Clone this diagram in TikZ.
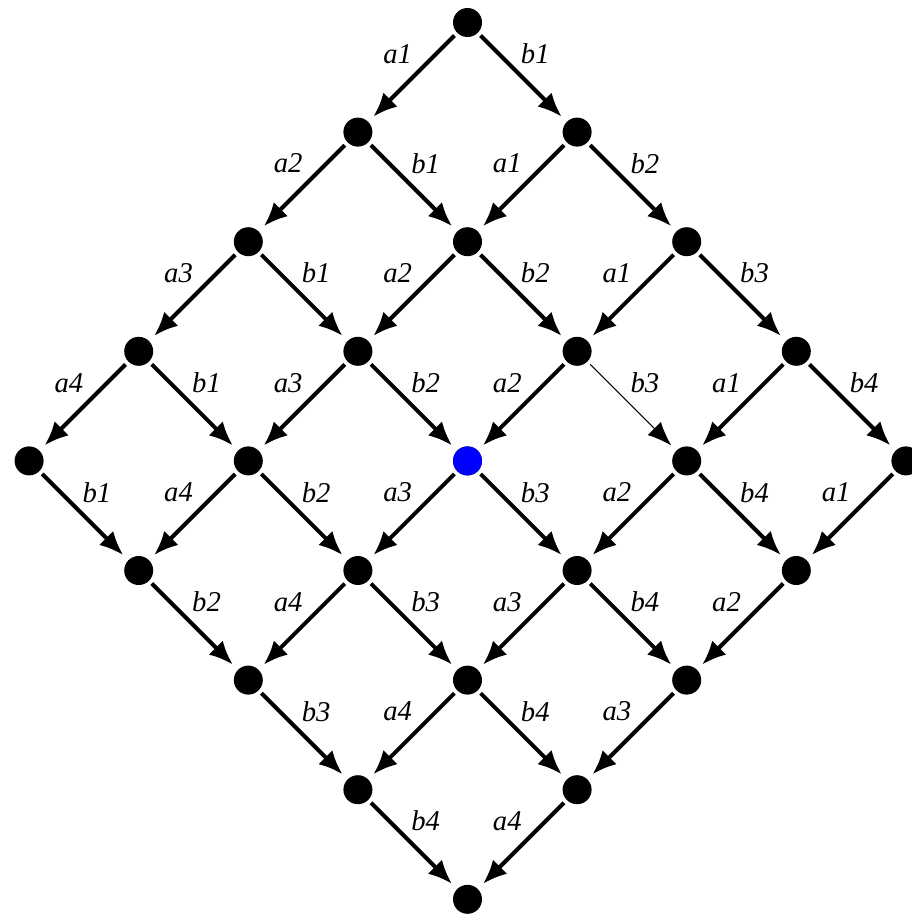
\documentclass[tikz,border=0pt]{standalone}
\usepackage{fontspec}
\setmainfont{Liberation Serif}
\usetikzlibrary{arrows.meta}
\begin{document}
\begin{tikzpicture}[x=0.75pt,y=-0.75pt,
  dot/.style={circle,fill=black,minimum size=21.75pt,inner sep=0pt,outer sep=0pt},
  edge/.style={line width=3pt,-{Latex[length=18pt,width=15pt]},shorten >=5.5pt,shorten <=3pt},
  thinedge/.style={line width=0.8pt,-{Latex[length=18pt,width=14pt]},shorten >=5.5pt,shorten <=3pt},
  lbl/.style={font=\fontsize{21.5}{24}\selectfont\itshape,inner sep=0pt},
  alab/.style={lbl,xshift=-11.25pt,yshift=17.5pt},
  blab/.style={lbl,xshift=9.75pt,yshift=17.5pt}]
\useasboundingbox (0,0) rectangle (912,914);
\foreach \i in {0,...,4}{\foreach \j in {0,...,4}{
  \node[dot] (n\i\j) at ({467.5+(\j-\i)*109.6},{22.5+(\i+\j)*109.6}) {};
}}
\node[dot,fill=blue] at (n22) {};
% a-edges
\foreach \i in {0,...,3}{\foreach \j in {0,...,4}{
  \pgfmathtruncatemacro\ii{\i+1}
  \draw[edge] (n\i\j) -- node[alab] {a\ii} (n\ii\j);
}}
% b-edges
\foreach \i in {0,...,4}{\foreach \j in {0,...,3}{
  \pgfmathtruncatemacro\jj{\j+1}
  \ifnum\i=1 \ifnum\j=2
    \draw[thinedge] (n\i\j) -- node[blab] {b\jj} (n\i\jj);
  \else
    \draw[edge] (n\i\j) -- node[blab] {b\jj} (n\i\jj);
  \fi\else
    \draw[edge] (n\i\j) -- node[blab] {b\jj} (n\i\jj);
  \fi
}}
\end{tikzpicture}
\end{document}
